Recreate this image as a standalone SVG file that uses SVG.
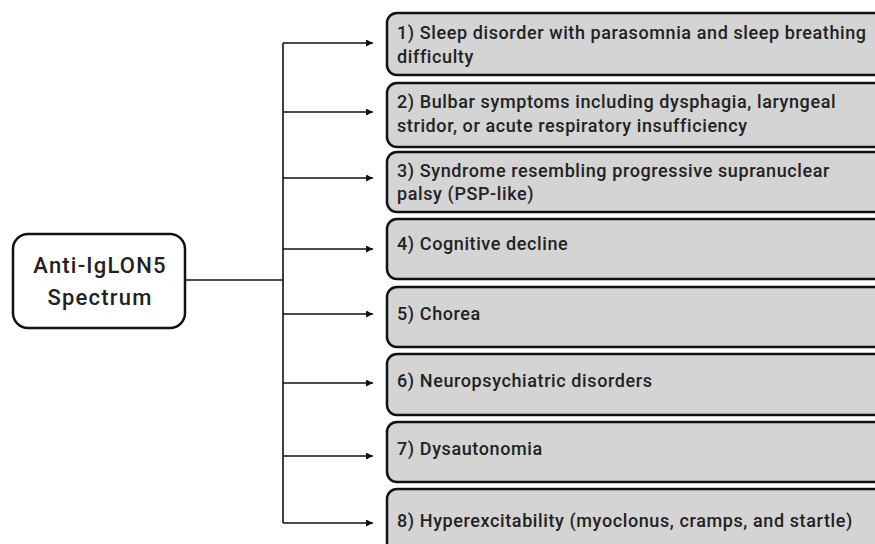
<svg xmlns="http://www.w3.org/2000/svg" width="875" height="544" viewBox="0 0 875 544">
<style>
.box{fill:#d4d4d4;stroke:#111;stroke-width:2.5}
.root{fill:#fff;stroke:#111;stroke-width:2.5}
.t{font-family:Roboto,"Liberation Sans",sans-serif;font-size:18px;font-weight:500;fill:#222;letter-spacing:0.6px}
.rt{font-family:Roboto,"Liberation Sans",sans-serif;font-size:22px;font-weight:500;fill:#222;text-anchor:middle;letter-spacing:1.2px}
.c{fill:none;stroke:#111;stroke-width:1.6}
</style>
<defs>
<marker id="ah" viewBox="0 0 10 10" refX="10" refY="5" markerWidth="8" markerHeight="7" markerUnits="userSpaceOnUse" orient="auto">
<path d="M0,0 L10,5 L0,10 z" fill="#111"/>
</marker>
</defs>
<g id="connectors">
<path class="c" d="M185,280 H283"/>
<path class="c" d="M283,43 V523"/>
<path class="c" d="M283,43 H373" marker-end="url(#ah)"/>
<path class="c" d="M283,112 H373" marker-end="url(#ah)"/>
<path class="c" d="M283,178 H373" marker-end="url(#ah)"/>
<path class="c" d="M283,249 H373" marker-end="url(#ah)"/>
<path class="c" d="M283,314 H373" marker-end="url(#ah)"/>
<path class="c" d="M283,383 H373" marker-end="url(#ah)"/>
<path class="c" d="M283,456 H373" marker-end="url(#ah)"/>
<path class="c" d="M283,523 H373" marker-end="url(#ah)"/>
</g>
<g id="root">
<rect class="root" x="13" y="234" width="172" height="94" rx="15"/>
<text class="rt" x="100" y="273">Anti-IgLON5</text>
<text class="rt" x="100" y="305">Spectrum</text>
</g>
<g id="n1">
<rect class="box" x="387" y="13" width="520" height="62" rx="10"/>
<text class="t" x="397" y="39">1) Sleep disorder with parasomnia and sleep breathing</text>
<text class="t" x="397" y="63">difficulty</text>
</g>
<g id="n2">
<rect class="box" x="387" y="83" width="520" height="64" rx="10"/>
<text class="t" x="397" y="108">2) Bulbar symptoms including dysphagia, laryngeal</text>
<text class="t" x="397" y="132">stridor, or acute respiratory insufficiency</text>
</g>
<g id="n3">
<rect class="box" x="387" y="152" width="520" height="60" rx="10"/>
<text class="t" x="397" y="177">3) Syndrome resembling progressive supranuclear</text>
<text class="t" x="397" y="200">palsy (PSP-like)</text>
</g>
<g id="n4">
<rect class="box" x="387" y="219" width="520" height="60" rx="10"/>
<text class="t" x="397" y="250">4) Cognitive decline</text>
</g>
<g id="n5">
<rect class="box" x="387" y="287" width="520" height="60" rx="10"/>
<text class="t" x="397" y="320">5) Chorea</text>
</g>
<g id="n6">
<rect class="box" x="387" y="354" width="520" height="61" rx="10"/>
<text class="t" x="397" y="387">6) Neuropsychiatric disorders</text>
</g>
<g id="n7">
<rect class="box" x="387" y="422" width="520" height="60" rx="10"/>
<text class="t" x="397" y="455">7) Dysautonomia</text>
</g>
<g id="n8">
<rect class="box" x="387" y="489" width="520" height="70" rx="10"/>
<text class="t" x="397" y="527">8) Hyperexcitability (myoclonus, cramps, and startle)</text>
</g>
</svg>
